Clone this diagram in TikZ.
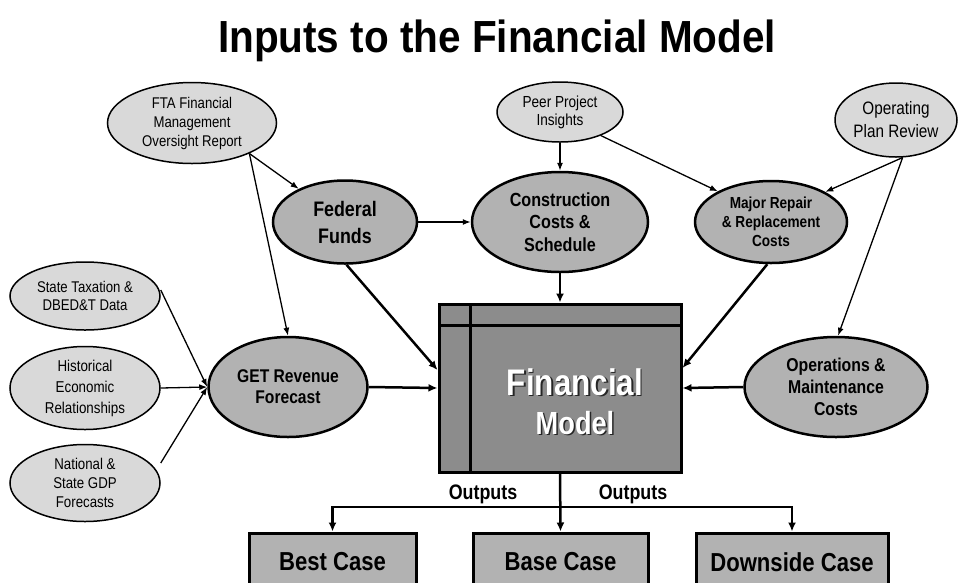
\documentclass[tikz,border=0pt]{standalone}
\usepackage{fontspec}
\setmainfont{Liberation Sans}[FakeStretch=0.85]
\newfontfamily\titlefont{Liberation Sans}[FakeStretch=0.9]
\usetikzlibrary{shapes.geometric,arrows.meta}
\definecolor{litegray}{RGB}{217,217,217}
\definecolor{midgray}{RGB}{178,178,178}
\definecolor{boxgray}{RGB}{140,140,140}
\newcommand\fsz[2]{\fontsize{#1}{#2}\selectfont}
\begin{document}
\begin{tikzpicture}[x=1pt,y=-1pt,
  lite/.style={ellipse, draw=black, line width=1.5pt, fill=litegray, inner sep=0pt},
  dark/.style={ellipse, draw=black, line width=2.5pt, fill=midgray, inner sep=0pt},
  txt/.style={align=center, inner sep=0pt},
  outbox/.style={rectangle, draw=black, line width=3pt, fill=midgray, minimum height=58pt, inner sep=0pt, font=\bfseries\fsz{26}{30}},
  lnk/.style={line width=1.3pt, -{Latex[length=8pt,width=6pt]}},
  blk/.style={line width=2.5pt, -{Latex[length=9pt,width=8pt]}},
  lbl/.style={font=\bfseries\fsz{21}{24}, inner sep=0pt, anchor=base}
]
\useasboundingbox (0,0) rectangle (960,582);
\fill[white] (0,0) rectangle (960,582);

% title
\node[anchor=base, inner sep=0pt, font=\titlefont\bfseries\fsz{45}{50}] (title) at (497,52) {Inputs to the Financial Model};

% light input ellipses
\node[lite, minimum width=169pt, minimum height=81pt,
  label={[txt, font=\fsz{15.5}{19}]center:FTA Financial\\Management\\Oversight Report}] (fta) at (192,123) {};
\node[lite, minimum width=126pt, minimum height=60pt,
  label={[txt, font=\fsz{16}{18}]center:Peer Project\\Insights}] (peer) at (560,112) {};
\node[lite, minimum width=122pt, minimum height=74pt,
  label={[txt, font=\fsz{18}{23}]center:Operating\\Plan Review}] (oper) at (896,120) {};
\node[lite, minimum width=150pt, minimum height=68pt,
  label={[txt, font=\fsz{15.5}{18}]center:State Taxation \&\\DBED\&T Data}] (state) at (85,296) {};
\node[lite, minimum width=150pt, minimum height=83pt,
  label={[txt, font=\fsz{15.7}{21}]center:Historical\\Economic\\Relationships}] (hist) at (85,388) {};
\node[lite, minimum width=150pt, minimum height=77pt,
  label={[txt, font=\fsz{15.6}{19}]center:National \&\\State GDP\\Forecasts}] (nat) at (85,483) {};

% dark ellipses
\node[dark, minimum width=144pt, minimum height=83pt,
  label={[txt, font=\bfseries\fsz{21}{27}]center:Federal\\Funds}] (fed) at (345,222) {};
\node[dark, minimum width=176pt, minimum height=100pt,
  label={[txt, font=\bfseries\fsz{19}{22.5}]center:Construction\\Costs \&\\Schedule}] (con) at (560,222) {};
\node[dark, minimum width=152pt, minimum height=82pt,
  label={[txt, font=\bfseries\fsz{16}{19}]center:Major Repair\\\& Replacement\\Costs}] (maj) at (771,222) {};
\node[dark, minimum width=159pt, minimum height=100pt,
  label={[txt, font=\bfseries\fsz{18.4}{21}]center:GET Revenue\\Forecast}] (get) at (288,387) {};
\node[dark, minimum width=183pt, minimum height=100pt,
  label={[txt, font=\bfseries\fsz{18.6}{22}]center:Operations \&\\Maintenance\\Costs}] (ops) at (836,387) {};

% financial model box
\node[rectangle, draw=black, line width=3pt, fill=boxgray, minimum width=242pt, minimum height=168pt, inner sep=0pt] (fm) at (560,388) {};
\draw[line width=3pt] (470,304) -- (470,472);
\draw[line width=3pt] (439,325) -- (681,325);
\node[txt, font=\bfseries\fsz{37}{40}, text=black!85] (fmt1s) at (576.5,383.5) {Financial};
\node[txt, font=\bfseries\fsz{37}{40}, text=white] (fmt1) at (575,382) {Financial};
\node[txt, font=\bfseries\fsz{32}{36}, text=black!85] (fmt2s) at (576.5,424.5) {Model};
\node[txt, font=\bfseries\fsz{32}{36}, text=white] (fmt2) at (575,423) {Model};

% output boxes
\node[outbox, minimum width=167pt] (best) at (332.5,562) {Best Case};
\node[outbox, minimum width=175pt] (base) at (560.5,562) {Base Case};
\node[outbox, minimum width=192pt] (down) at (792,562) {Downside Case};

\node[lbl] (out1) at (483,499) {Outputs};
\node[lbl] (out2) at (633,499) {Outputs};

% connectors
\draw[lnk] (fta.-28) -- (fed);
\draw[lnk] (fta.-28) -- (get.north);
\draw[lnk] (fed.east) -- (con.west);
\draw[lnk] (peer.south) -- (con.north);
\draw[lnk] (peer.-30) -- (maj.150);
\draw[lnk] (oper.-80) -- (maj.29);
\draw[lnk] (oper.-80) -- ([xshift=2pt]ops.north);
\draw[lnk] ([yshift=6pt]state.east) -- (get.west);
\draw[lnk] (hist.east) -- (get.west);
\draw[lnk] ([yshift=20pt]nat.east) -- (get.west);

\draw[blk] (fed.-88) -- ([yshift=18pt]fm.west);
\draw[blk] (con.south) -- (fm.north);
\draw[blk] (maj.-95) -- ([yshift=20pt]fm.east);
\draw[blk] (ops.west) -- (fm.east);
\draw[blk] (get.east) -- (fm.west);

\coordinate (split) at (560,507);
\draw[blk] (fm.south) -- (base.north);
\draw[blk] (split) -| (best.north);
\draw[blk] (split) -| (down.north);
\end{tikzpicture}
\end{document}
